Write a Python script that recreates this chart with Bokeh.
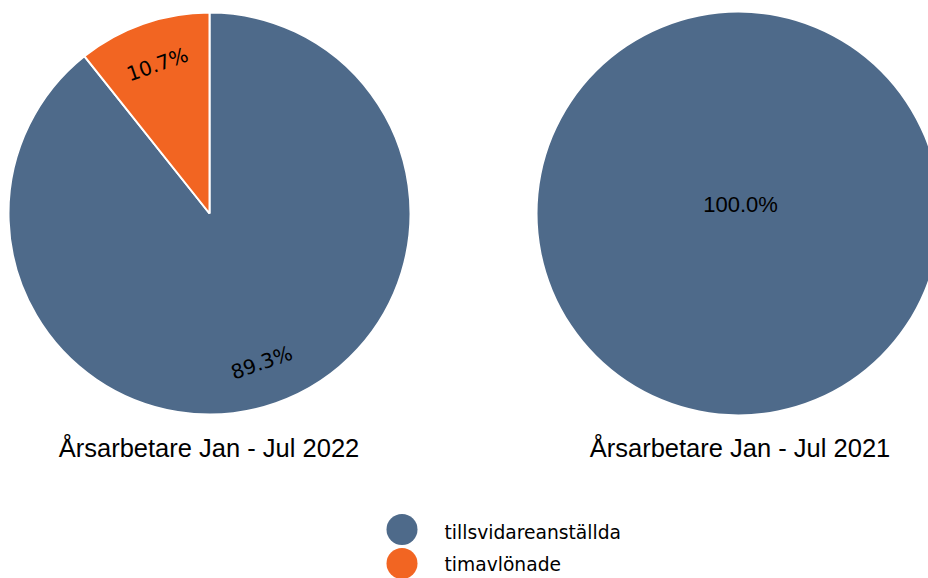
import math
from bokeh.plotting import figure
from bokeh.models import Range1d
from bokeh.core.properties import value
from bokeh.embed import file_html
from bokeh.resources import INLINE

# ---- data ----
categories = ["tillsvidareanställda", "timavlönade"]
colors = ["#4E6A8A", "#F26522"]
titles = ["Årsarbetare Jan - Jul 2022", "Årsarbetare Jan - Jul 2021"]
share_2022 = [89.3, 10.7]
share_2021 = [100.0, 0.0]
series = [share_2022, share_2021]

# ---- layout (pixel-like data units; y measured up from bottom) ----
W, H = 928, 578
def py(y):
    return H - y

p = figure(width=W, height=H, output_backend="svg", toolbar_location=None,
           x_range=Range1d(0, W), y_range=Range1d(0, H),
           min_border=0, outline_line_color=None)
p.axis.visible = False
p.grid.visible = False
p.background_fill_color = "white"
p.border_fill_color = "white"

centers_x = [209, 738]
center_y = py(213)
R = 201
LABEL_R = 158

for ci, vals in enumerate(series):
    cx = centers_x[ci]
    total = sum(vals)
    start = 90.0
    nonzero = [v for v in vals if v > 0]
    for k, v in enumerate(vals):
        if v <= 0:
            continue
        frac = v / total
        end = start - frac * 360.0
        label = f"{v:.1f}%"
        if len(nonzero) == 1:
            p.circle(x=[cx], y=[center_y], radius=R, fill_color=colors[k],
                     line_color="white", line_width=0)
            p.text(x=[cx + 2], y=[center_y + 9], text=[label], text_align="center",
                   text_baseline="middle", text_font=value("Liberation Sans"),
                   text_font_size="22px", text_color="black")
        else:
            p.wedge(x=[cx], y=[center_y], radius=R, start_angle=math.radians(end),
                    end_angle=math.radians(start), fill_color=colors[k],
                    line_color="white", line_width=2)
            mid = (start + end) / 2.0
            rot = mid + 90.0
            while rot > 90:
                rot -= 180
            while rot <= -90:
                rot += 180
            lx = cx + LABEL_R * math.cos(math.radians(mid))
            ly = center_y + LABEL_R * math.sin(math.radians(mid))
            p.text(x=[lx], y=[ly], text=[label], angle=[math.radians(rot)],
                   text_align="center", text_baseline="middle",
                   text_font=value("DejaVu Sans"), text_font_size="20px",
                   text_color="black")
        start = end

# titles
p.text(x=[208.5, 739.5], y=[py(447)] * 2, text=titles, text_align="center",
       text_baseline="middle", text_font=value("Liberation Sans"),
       text_font_size="25.5px", text_color="black")

# legend
leg_y = [py(529), py(563)]
p.scatter(x=[401.5] * len(categories), y=leg_y, size=31, marker="circle",
          fill_color=colors, line_color=None)
p.text(x=[444] * len(categories), y=[py(532), py(564)], text=categories,
       text_align="left", text_baseline="middle", text_font=value("DejaVu Sans"),
       text_font_size="18.7px", text_color="black")

open("out.html", "w").write(file_html(p, INLINE))
